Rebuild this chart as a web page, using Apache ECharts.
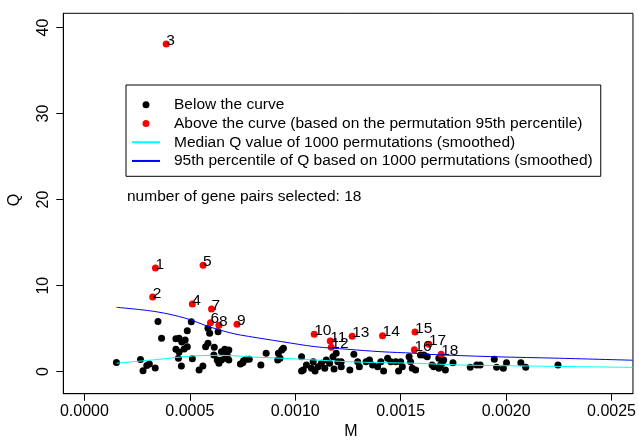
<!DOCTYPE html>
<html>
<head>
<meta charset="utf-8">
<script src="https://cdn.jsdelivr.net/npm/echarts@6/dist/echarts.min.js"></script>
<style>html,body{margin:0;padding:0;background:#fff;}#c{width:639px;height:442px;}</style>
</head>
<body>
<div id="c"></div>
<script>
// ---- data ----
var blackM = [0.000152,0.000266,0.000278,0.000296,0.000308,0.000336,0.000349,0.000366,0.000434,0.000449,0.000478,0.000462,0.000434,0.000449,0.000488,0.000473,0.000446,0.000460,0.000488,0.000507,0.000512,0.000544,0.000562,0.000586,0.000594,0.000586,0.000575,0.000616,0.000614,0.000630,0.000638,0.000634,0.000650,0.000666,0.000685,0.000677,0.000650,0.000669,0.000685,0.000740,0.000755,0.000768,0.000782,0.000751,0.000837,0.000862,0.000920,0.000936,0.000944,0.000928,0.000917,
0.001030,0.001038,0.001053,0.001077,0.001085,0.001108,0.001124,0.001140,0.001147,0.001163,0.001179,0.001194,0.001202,0.001218,0.001218,0.001278,0.001296,0.001304,0.001336,0.001352,0.001367,0.001391,0.001406,0.001438,0.001453,0.001477,0.001500,0.001508,0.001540,0.001547,0.001555,0.001571,0.001594,0.001610,0.001626,0.001030,0.001094,0.001184,0.001259,0.001419,0.001490,
0.001649,0.001657,0.001681,0.001689,0.001697,0.001712,0.001704,0.001748,0.001681,0.001830,0.001861,0.001877,0.001944,0.001955,0.001987,0.002002,0.002070,0.002093,0.002246];
var blackQ = [1.07,1.42,0.12,0.72,0.89,0.43,5.83,3.88,3.83,3.88,3.68,3.45,2.60,2.29,2.91,2.64,1.56,0.66,4.76,5.81,1.51,0.20,0.66,5.04,4.46,3.30,2.91,2.84,1.94,1.36,0.98,4.65,2.32,2.60,2.52,1.94,1.36,1.56,1.36,0.89,1.28,1.44,1.44,1.05,0.78,2.14,2.14,2.52,2.72,1.56,1.36,
1.74,0.20,0.78,0.40,1.16,0.58,0.98,0.40,1.36,0.98,1.74,2.14,1.16,0.58,1.16,2.02,1.16,0.58,1.16,1.36,0.78,0.58,1.16,1.56,1.16,1.16,1.16,0.58,1.74,1.16,0.40,0.20,1.94,1.94,1.74,0.08,0.08,0.31,0.20,0.08,0.08,
0.78,0.58,0.40,0.78,1.05,0.20,1.36,1.05,1.56,0.51,0.78,0.78,1.44,0.51,0.40,1.05,1.05,0.51,0.78];

var redLabels = ['1','2','3','4','5','6','7','8','9','10','11','12','13','14','15','16','17','18'];
var redM = [0.000337,0.000324,0.000388,0.000512,0.000563,0.000598,0.000603,0.000638,0.000724,0.001090,0.001166,0.001171,0.001270,0.001414,0.001568,0.001565,0.001634,0.001692];
var redQ = [12.05,8.68,38.08,7.87,12.36,5.69,7.29,5.39,5.50,4.35,3.57,2.83,4.11,4.18,4.61,2.55,3.18,2.02];

var blueM = [0.000152,0.000340,0.000481,0.000591,0.000700,0.000779,0.000936,0.001093,0.001250,0.001406,0.001564,0.001626,0.001940,0.002253,0.002600];
var blueQ = [7.48,6.97,6.20,5.23,4.46,4.10,3.49,2.91,2.60,2.32,2.14,2.02,1.74,1.56,1.33];

var cyanM = [0.000152,0.000355,0.000512,0.000638,0.000826,0.000936,0.001093,0.001250,0.001406,0.001564,0.001783,0.002096,0.002600];
var cyanQ = [0.98,1.44,1.82,1.90,1.67,1.56,1.36,1.16,1.05,0.98,0.78,0.66,0.50];

var xTicks = [0, 0.0005, 0.0010, 0.0015, 0.0020, 0.0025];
var yTicks = [0, 10, 20, 30, 40];

var seriesNames = [
  'Below the curve',
  'Above the curve (based on the permutation 95th percentile)',
  'Median Q value of 1000 permutations (smoothed)',
  '95th percentile of Q based on 1000 permutations (smoothed)'
];
var noteText = 'number of gene pairs selected: 18';

// ---- build ----
function zip(a, b) { return a.map(function (v, i) { return [v, b[i]]; }); }
var FONT = '"Liberation Sans", Arial, Helvetica, sans-serif';

var chart = echarts.init(document.getElementById('c'), null, {renderer: 'canvas'});
chart.setOption({
  animation: false,
  backgroundColor: '#fff',
  textStyle: {fontFamily: FONT},
  grid: {left: 63.3, right: 1.7, top: 13.3, bottom: 48.3, show: true, borderColor: '#000', borderWidth: 1, containLabel: false},
  xAxis: {
    type: 'value', min: -0.0001, max: 0.0026016,
    axisLine: {show: true, onZero: false, lineStyle: {color: '#000', width: 1}},
    splitLine: {show: false},
    axisTick: {show: true, inside: false, length: 7, customValues: xTicks, lineStyle: {color: '#000'}},
    axisLabel: {customValues: xTicks, margin: 10, fontSize: 16, color: '#000', fontFamily: FONT,
      formatter: function (v) { return v.toFixed(4); }}
  },
  yAxis: {
    type: 'value', min: -2.56, max: 41.65,
    axisLine: {show: true, onZero: false, lineStyle: {color: '#000', width: 1}},
    splitLine: {show: false},
    axisTick: {show: true, inside: false, length: 7, customValues: yTicks, lineStyle: {color: '#000'}},
    axisLabel: {customValues: yTicks, margin: 12, fontSize: 16, color: '#000', rotate: 90, fontFamily: FONT}
  },
  legend: {
    show: true, orient: 'vertical', left: 126, top: 85,
    padding: [10.5, 8, 6, 5], borderColor: '#000', borderWidth: 1,
    itemWidth: 28, itemHeight: 7, itemGap: 0,
    textStyle: {fontSize: 15.5, color: '#000', lineHeight: 18.7, fontFamily: FONT, padding: [0, 0, 0, 9]},
    data: [
      {name: seriesNames[0]},
      {name: seriesNames[1]},
      {name: seriesNames[2], itemStyle: {opacity: 0}},
      {name: seriesNames[3], itemStyle: {opacity: 0}}
    ]
  },
  series: [
    {name: seriesNames[0], type: 'scatter', symbol: 'circle', symbolSize: 7,
      itemStyle: {color: '#000', opacity: 1}, data: zip(blackM, blackQ), z: 2},
    {name: seriesNames[1], type: 'scatter', symbol: 'circle', symbolSize: 7,
      itemStyle: {color: '#ff0000', opacity: 1},
      data: redM.map(function (m, i) { return {name: redLabels[i], value: [m, redQ[i]]}; }),
      label: {show: true, formatter: '{b}', position: [3.5, 8], align: 'left', verticalAlign: 'bottom',
        fontSize: 15.5, color: '#000', fontFamily: FONT},
      z: 3},
    {name: seriesNames[2], type: 'line', symbol: 'none', showSymbol: false, smooth: 0.35,
      lineStyle: {color: '#00ffff', width: 1}, itemStyle: {color: '#00ffff'},
      data: zip(cyanM, cyanQ), z: 4},
    {name: seriesNames[3], type: 'line', symbol: 'none', showSymbol: false, smooth: 0.35,
      lineStyle: {color: '#0000ff', width: 1}, itemStyle: {color: '#0000ff'},
      data: zip(blueM, blueQ), z: 4}
  ],
  graphic: [
    {type: 'text', left: 127, top: 189, style: {text: noteText, font: '15.5px ' + FONT, fill: '#000'}},
    {type: 'text', x: 351, y: 432, style: {text: 'M', font: '16px ' + FONT, fill: '#000', textAlign: 'center', textVerticalAlign: 'middle'}},
    {type: 'text', x: 15, y: 200, rotation: Math.PI / 2, style: {text: 'Q', font: '16px ' + FONT, fill: '#000', textAlign: 'center', textVerticalAlign: 'middle'}}
  ]
});
</script>
</body>
</html>
